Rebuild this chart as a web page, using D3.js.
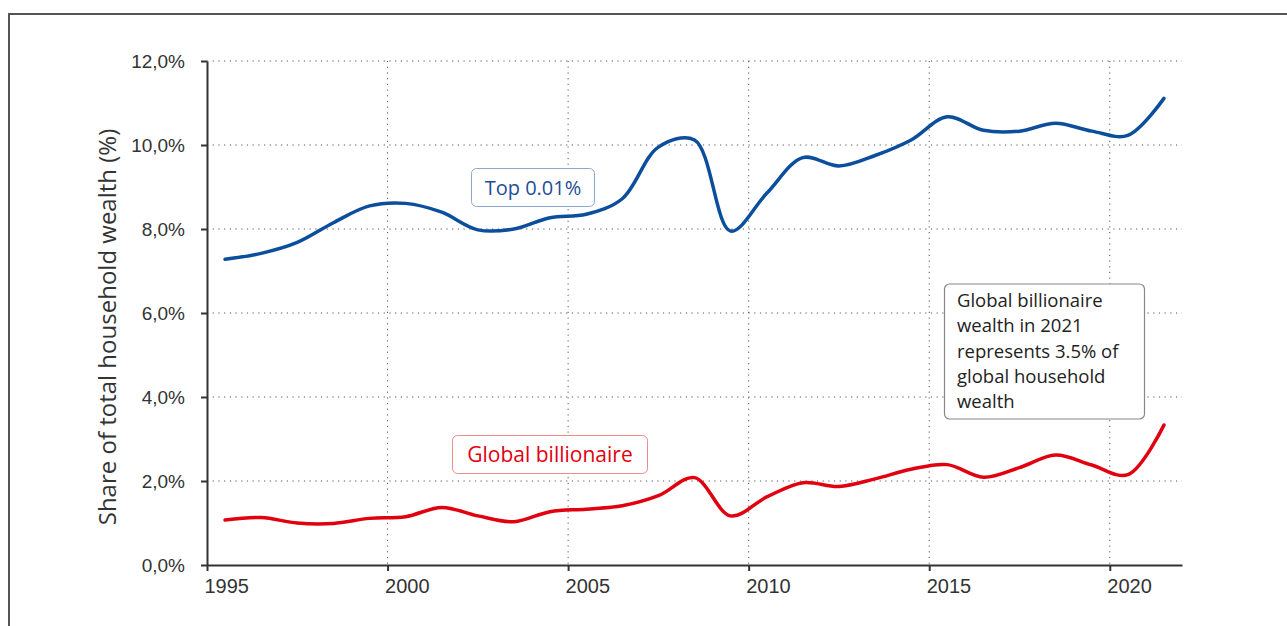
<!DOCTYPE html>
<html>
<head>
<meta charset="utf-8">
<script src="https://cdn.jsdelivr.net/npm/d3@7"></script>
<style>
    body { margin: 0; background: #fff; }
    svg { display: block; font-family: "Open Sans", sans-serif; }
    .axis text { fill: #333; }
    .grid line { stroke: #555; stroke-width: 1; stroke-dasharray: 1.2, 4.5; }
</style>
</head>
<body>
<svg id="chart" width="1287" height="626"></svg>
<script>
// mid-year observations
var years = [1995.5, 1996.5, 1997.5, 1998.5, 1999.5, 2000.5, 2001.5, 2002.5, 2003.5, 2004.5,
    2005.5, 2006.5, 2007.5, 2008.5, 2009.5, 2010.5, 2011.5, 2012.5, 2013.5, 2014.5,
    2015.5, 2016.5, 2017.5, 2018.5, 2019.5, 2020.5, 2021.5];

var top001 = [7.28, 7.42, 7.68, 8.15, 8.55, 8.61, 8.40, 7.98, 8.00, 8.27,
    8.35, 8.72, 9.95, 10.12, 7.95, 8.85, 9.70, 9.50, 9.75, 10.12,
    10.67, 10.35, 10.33, 10.52, 10.33, 10.23, 11.11];

var billionaire = [1.07, 1.13, 1.00, 0.99, 1.11, 1.15, 1.37, 1.17, 1.03, 1.27,
    1.33, 1.41, 1.65, 2.08, 1.17, 1.62, 1.96, 1.87, 2.05, 2.28,
    2.39, 2.09, 2.32, 2.62, 2.38, 2.15, 3.33];

var xTicks = [1995, 2000, 2005, 2010, 2015, 2020];
var yTicks = [0, 2, 4, 6, 8, 10, 12];

var yTitle = "Share of total household wealth (%)";
var noteLines = ["Global billionaire", "wealth in 2021", "represents 3.5% of", "global household", "wealth"];

var svg = d3.select("#chart");

// outer frame
svg.append("rect")
    .attr("x", 9).attr("y", 14)
    .attr("width", 1320).attr("height", 700)
    .attr("fill", "none")
    .attr("stroke", "#555")
    .attr("stroke-width", 2);

var margin = {left: 207, top: 61, right: 1182, bottom: 565};

var x = d3.scaleLinear().domain([1995, 2022]).range([margin.left, margin.right]);
var y = d3.scaleLinear().domain([0, 12]).range([margin.bottom, margin.top]);

var fr = d3.formatLocale({decimal: ",", thousands: " ", grouping: [3], currency: ["", "€"]});
var f1 = fr.format(".1f");

// grid
var grid = svg.append("g").attr("class", "grid");
grid.selectAll(".h")
    .data(yTicks.filter(function (d) { return d > 0; }))
    .enter().append("line")
    .attr("x1", margin.left).attr("x2", margin.right)
    .attr("y1", function (d) { return y(d); })
    .attr("y2", function (d) { return y(d); });
grid.selectAll(".v")
    .data(xTicks.filter(function (d) { return d > 1995; }))
    .enter().append("line")
    .attr("y1", margin.top).attr("y2", margin.bottom)
    .attr("x1", function (d) { return x(d); })
    .attr("x2", function (d) { return x(d); });

// axes
var xAxis = d3.axisBottom(x).tickValues(xTicks).tickFormat(d3.format("d"))
    .tickSize(6).tickSizeOuter(0).tickPadding(8);
var yAxis = d3.axisLeft(y).tickValues(yTicks).tickFormat(function (d) { return f1(d) + "%"; })
    .tickSize(6).tickSizeOuter(0).tickPadding(16);

var gx = svg.append("g").attr("class", "x axis")
    .attr("transform", "translate(0," + margin.bottom + ")")
    .call(xAxis);
gx.selectAll("text").attr("text-anchor", "start").attr("x", -3)
    .style("font-size", "20px");

var gy = svg.append("g").attr("class", "y axis")
    .attr("transform", "translate(" + margin.left + ",0)")
    .call(yAxis);
gy.selectAll("text").style("font-size", "19px");

svg.selectAll(".axis .domain, .axis .tick line")
    .attr("stroke", "#333").attr("stroke-width", 2);

svg.append("text")
    .attr("transform", "translate(116," + ((margin.top + margin.bottom) / 2 + 14) + ") rotate(-90)")
    .attr("text-anchor", "middle")
    .style("font-size", "24px")
    .style("fill", "#333")
    .text(yTitle);

// lines
var line = d3.line()
    .x(function (d) { return x(d[0]); })
    .y(function (d) { return y(d[1]); })
    .curve(d3.curveCatmullRom);

svg.append("path")
    .datum(d3.zip(years, top001))
    .attr("d", line)
    .attr("fill", "none")
    .attr("stroke", "#0b4f9c")
    .attr("stroke-width", 3.5)
    .attr("stroke-linecap", "round");

svg.append("path")
    .datum(d3.zip(years, billionaire))
    .attr("d", line)
    .attr("fill", "none")
    .attr("stroke", "#e1000f")
    .attr("stroke-width", 3.5)
    .attr("stroke-linecap", "round");

// series labels
function tag(label, cx, cy, w, h, size, color, border) {
    var g = svg.append("g");
    g.append("rect")
        .attr("x", cx - w / 2).attr("y", cy - h / 2)
        .attr("width", w).attr("height", h)
        .attr("rx", 5)
        .attr("fill", "#fff")
        .attr("stroke", border)
        .attr("stroke-width", 1);
    g.append("text")
        .attr("x", cx).attr("y", cy)
        .attr("dy", "0.35em")
        .attr("text-anchor", "middle")
        .style("font-size", size + "px")
        .style("fill", color)
        .text(label);
}

tag("Top 0.01%", 533, 187.5, 123, 38, 20, "#1d4f96", "#8ea7cf");
tag("Global billionaire", 550, 454.5, 195, 38, 21, "#e1000f", "#ef8a8f");

// annotation
var note = svg.append("g");
note.append("rect")
    .attr("x", 944.5).attr("y", 284)
    .attr("width", 200).attr("height", 135)
    .attr("rx", 5)
    .attr("fill", "#fff")
    .attr("stroke", "#888")
    .attr("stroke-width", 1.2);
note.selectAll("text")
    .data(noteLines)
    .enter().append("text")
    .attr("x", 957)
    .attr("y", function (d, i) { return 307 + i * 25.3; })
    .style("font-size", "18.5px")
    .style("fill", "#222")
    .text(function (d) { return d; });
</script>
</body>
</html>
